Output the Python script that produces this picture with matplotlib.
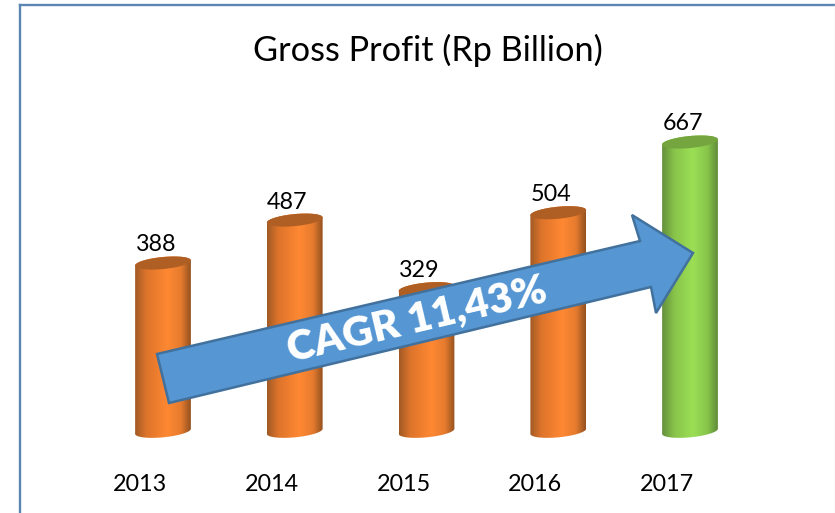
import numpy as np
import matplotlib
matplotlib.use("Agg")
import matplotlib.pyplot as plt
from matplotlib.colors import LinearSegmentedColormap
from matplotlib.patches import Polygon
from matplotlib.lines import Line2D

years = ["2013", "2014", "2015", "2016", "2017"]
profit = [388, 487, 329, 504, 667]
title = "Gross Profit (Rp Billion)"
cagr_label = "CAGR 11,43%"

W, H = 835, 513
PX_X0, PX_DX = 163.0, 131.75      # pixel x of first bar, spacing
PX_Y0, PX_PER_UNIT = 431.3, 0.4337  # pixel y of zero, pixels per unit
HALF_W = 28.0 / PX_DX
RX, RY = 28.0, 6.0
TILT = np.deg2rad(5.5)

plt.rcParams["font.family"] = ["Lato", "DejaVu Sans"]
fig = plt.figure(figsize=(W / 100, H / 100), dpi=100, facecolor="white")

ax = fig.add_axes([0, 0, 1, 1])
ax.set_xlim(-PX_X0 / PX_DX, (W - PX_X0) / PX_DX)
ax.set_ylim((PX_Y0 - H) / PX_PER_UNIT, PX_Y0 / PX_PER_UNIT)
ax.axis("off")

orange = LinearSegmentedColormap.from_list("o", [(0, "#A05A25"), (0.2, "#DD742B"), (0.58, "#FF8833"), (0.82, "#E67B2E"), (1, "#94521F")])
green = LinearSegmentedColormap.from_list("g", [(0, "#648F3C"), (0.22, "#88C44A"), (0.55, "#9BDF55"), (0.82, "#86C44A"), (1, "#5F8A38")])
grad = np.linspace(0, 1, 256)[None, :]


def ellipse_pts(xc, val, t):
    # tilted ellipse offset, expressed in data units
    ex = RX * np.cos(t)
    ey = RY * np.sin(t)
    dx = ex * np.cos(TILT) - ey * np.sin(TILT)
    dy = ex * np.sin(TILT) + ey * np.cos(TILT)
    return xc + dx / PX_DX, val + dy / PX_PER_UNIT


for i, v in enumerate(profit):
    last = i == len(profit) - 1
    cmap, top = (green, "#74A53E") if last else (orange, "#B05F24")
    bar = ax.bar(i, v, width=2 * HALF_W, color="none", edgecolor="none")[0]
    t_top = np.linspace(0, np.pi, 60)
    t_bot = np.linspace(np.pi, 2 * np.pi, 60)
    xt, yt = ellipse_pts(i, v, t_top)
    xb, yb = ellipse_pts(i, 0, t_bot)
    body = Polygon(np.column_stack([np.r_[xt, xb], np.r_[yt, yb]]), closed=True,
                   facecolor="none", edgecolor="none", transform=ax.transData)
    ax.add_patch(body)
    low = yb.min()
    hi = yt.max()
    im = ax.imshow(grad, cmap=cmap, aspect="auto", zorder=2,
                   extent=[i - HALF_W, i + HALF_W, low, hi])
    im.set_clip_path(body)
    xc, yc = ellipse_pts(i, v, np.linspace(0, 2 * np.pi, 120))
    ax.add_patch(Polygon(np.column_stack([xc, yc]), closed=True, facecolor=top,
                         edgecolor="none", zorder=3))
    ax.annotate(str(v), (i, v), xytext=(-5.2, 13.0), textcoords="offset points",
                ha="center", va="center", fontsize=16.8, color="black", zorder=4)
    ax.annotate(years[i], (i, 0), xytext=(-16.5, -38.2), textcoords="offset points",
                ha="center", va="center", fontsize=16.8, color="black", zorder=4)

ax.set_xlim(-PX_X0 / PX_DX, (W - PX_X0) / PX_DX)
ax.set_ylim((PX_Y0 - H) / PX_PER_UNIT, PX_Y0 / PX_PER_UNIT)

# overlay in pixel coordinates: frame, arrow, title
ov = fig.add_axes([0, 0, 1, 1], facecolor="none")
ov.set_xlim(0, W)
ov.set_ylim(H, 0)
ov.axis("off")

frame = "#5B86B4"
ov.add_line(Line2D([19.5, 19.5], [H, 4.5], color=frame, lw=1.7))
ov.add_line(Line2D([19.5, W], [4.5, 4.5], color=frame, lw=1.7))
ov.add_line(Line2D([834.5, 834.5], [5, H], color="#EDEDED", lw=1))

arrow = [(157, 354), (640, 241), (632, 215), (693, 253), (656, 313), (651, 287), (169, 403)]
ov.add_patch(Polygon(arrow, closed=True, facecolor="#5596D3", edgecolor="#41719C", lw=1.8,
                     joinstyle="miter", zorder=5))
ov.text(417, 320, cagr_label, color="white", fontsize=30, fontweight="heavy",
        rotation=13.2, rotation_mode="anchor", ha="center", va="center", zorder=6)
ov.text(428, 50, title, color="black", fontsize=24.7, ha="center", va="center", zorder=6)

fig.savefig("out.png", dpi=100, facecolor="white")
